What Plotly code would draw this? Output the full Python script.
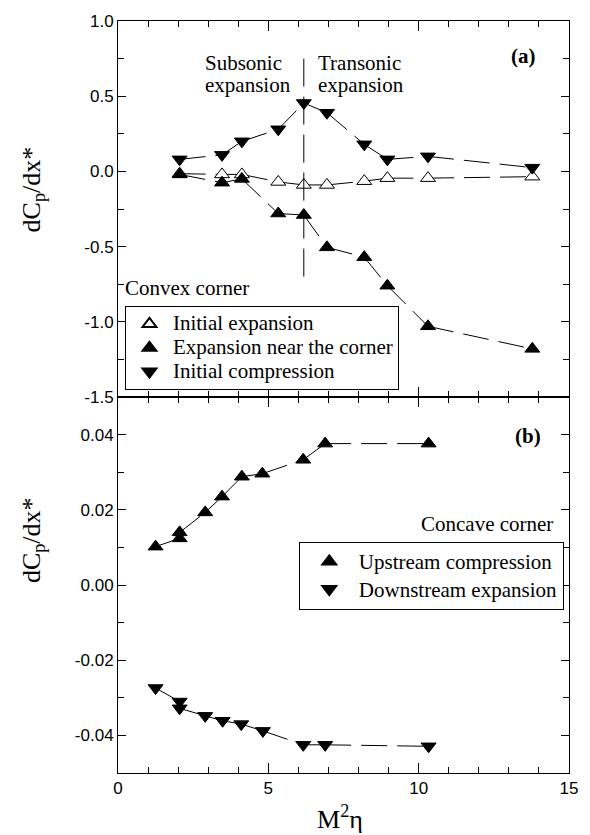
import plotly.graph_objects as go

# ---------------- data ----------------
# panel (a): convex corner
x_a = [2.05, 3.46, 4.12, 5.33, 6.18, 6.95, 8.19, 8.96, 10.31, 13.78]
init_expansion = [-0.015, -0.02, -0.02, -0.07, -0.09, -0.09, -0.065, -0.045, -0.045, -0.035]
exp_near_corner = [-0.02, -0.075, -0.05, -0.28, -0.29, -0.505, -0.57, -0.76, -1.03, -1.18]
init_compression = [0.08, 0.11, 0.20, 0.28, 0.455, 0.39, 0.18, 0.08, 0.10, 0.025]

# panel (b): concave corner
x_b_up = [1.25, 2.05, 2.05, 2.9, 3.46, 4.12, 4.80, 6.16, 6.89, 10.33]
upstream_compression = [0.0102, 0.0124, 0.014, 0.0193, 0.0235, 0.0288, 0.0296, 0.0333, 0.0376, 0.0376]
x_b_dn = [1.25, 2.05, 2.05, 2.9, 3.48, 4.10, 4.82, 6.16, 6.89, 10.33]
downstream_expansion = [-0.0274, -0.031, -0.0328, -0.0348, -0.0361, -0.037, -0.0388, -0.0425, -0.0425, -0.0429]

# transition marker (subsonic / transonic)
x_transition = 6.18
y_transition = [0.75, -0.70]

# ticks
ya_vals = [-1.5, -1.0, -0.5, 0.0, 0.5, 1.0]
ya_text = ["-1.5", "-1.0", "-0.5", "0.0", "0.5", "1.0"]
yb_vals = [-0.04, -0.02, 0.0, 0.02, 0.04]
yb_text = ["-0.04", "-0.02", "0.00", "0.02", "0.04"]
x_vals = [0, 5, 10, 15]
x_text = ["0", "5", "10", "15"]

SERIF = "Liberation Serif"
SANS = "Liberation Sans"
DASH = "26px,10px"


def segments(xs, ys):
    """Split a series into separate segments so the dash pattern restarts at each point."""
    sx, sy = [], []
    for i in range(len(xs) - 1):
        sx += [xs[i], xs[i + 1], None]
        sy += [ys[i], ys[i + 1], None]
    return sx, sy


def big(name):
    # legend rows are spaced from the legend font size; draw the text itself larger
    return '<span style="font-size:21px">' + name + '</span>'


fig = go.Figure()


def add_series(xs, ys, name, symbol, filled, xa, ya, legend):
    sx, sy = segments(xs, ys)
    fig.add_trace(go.Scatter(x=sx, y=sy, mode="lines", xaxis=xa, yaxis=ya,
                             line=dict(color="black", width=1, dash=DASH),
                             showlegend=False, hoverinfo="skip", connectgaps=False))
    fig.add_trace(go.Scatter(x=xs, y=ys, mode="markers", name=big(name), xaxis=xa, yaxis=ya,
                             legend=legend,
                             marker=dict(symbol=symbol, size=13,
                                         color="black" if filled else "white",
                                         line=dict(color="black", width=1))))


add_series(x_a, init_expansion, "Initial expansion", "triangle-up", False, "x", "y", "legend")
add_series(x_a, exp_near_corner, "Expansion near the corner", "triangle-up", True, "x", "y", "legend")
add_series(x_a, init_compression, "Initial compression", "triangle-down", True, "x", "y", "legend")
add_series(x_b_up, upstream_compression, "Upstream compression", "triangle-up", True, "x2", "y2", "legend2")
add_series(x_b_dn, downstream_expansion, "Downstream expansion", "triangle-down", True, "x2", "y2", "legend2")

# vertical dashed transition line
fig.add_trace(go.Scatter(x=[x_transition, x_transition], y=y_transition, mode="lines",
                         xaxis="x", yaxis="y", showlegend=False, hoverinfo="skip",
                         line=dict(color="black", width=1, dash="28px,10px")))

axis_common = dict(showline=True, linecolor="black", linewidth=1, mirror="allticks",
                   ticks="inside", tickcolor="black", showgrid=False, zeroline=False,
                   tickfont=dict(family=SANS, size=17, color="black"))

fig.update_layout(
    width=590, height=835,
    margin=dict(l=118, r=18, t=16, b=62),
    plot_bgcolor="white", paper_bgcolor="white",
    xaxis=dict(domain=[0, 1], anchor="y", range=[0, 15], tickmode="array", tickvals=x_vals,
               ticktext=x_text, showticklabels=False, ticklen=10,
               minor=dict(ticks="inside", ticklen=6, tickmode="linear", tick0=0, dtick=1,
                          tickcolor="black", showgrid=False),
               **axis_common),
    yaxis=dict(domain=[0.5, 1], anchor="x", range=[-1.5, 1.0], tickmode="array",
               tickvals=ya_vals, ticktext=ya_text, ticklen=8,
               minor=dict(ticks="inside", ticklen=6, tickmode="linear", tick0=0, dtick=0.25,
                          tickcolor="black", showgrid=False),
               **axis_common),
    xaxis2=dict(domain=[0, 1], anchor="y2", range=[0, 15], tickmode="array", tickvals=x_vals,
                ticktext=x_text, ticklen=10,
                minor=dict(ticks="inside", ticklen=6, tickmode="linear", tick0=0, dtick=1,
                           tickcolor="black", showgrid=False),
                **axis_common),
    yaxis2=dict(domain=[0, 0.5], anchor="x2", range=[-0.05, 0.05], tickmode="array",
                tickvals=yb_vals, ticktext=yb_text, ticklen=8,
                minor=dict(ticks="inside", ticklen=6, tickmode="linear", tick0=0, dtick=0.01,
                           tickcolor="black", showgrid=False),
                **axis_common),
    legend=dict(x=(125 - 118) / 454, y=(773 - 303) / 757, xanchor="left", yanchor="top",
                bordercolor="black", borderwidth=1, bgcolor="white",
                font=dict(family=SERIF, size=16, color="black"),
                itemsizing="constant", itemwidth=37, tracegroupgap=0),
    legend2=dict(x=(300 - 118) / 454, y=(773 - 540) / 757, xanchor="left", yanchor="top",
                 bordercolor="black", borderwidth=1, bgcolor="white",
                 font=dict(family=SERIF, size=19, color="black"),
                 itemsizing="constant", itemwidth=49, tracegroupgap=0),
    showlegend=True,
)

txt = dict(family=SERIF, size=21, color="black")
ann = [
    dict(text="Subsonic", x=204, y=58, xanchor="left"),
    dict(text="expansion", x=204, y=80, xanchor="left"),
    dict(text="Transonic", x=317, y=58, xanchor="left"),
    dict(text="expansion", x=317, y=80, xanchor="left"),
    dict(text="<b>(a)</b>", x=541, y=51, xanchor="right"),
    dict(text="<b>(b)</b>", x=546, y=434, xanchor="right"),
    dict(text="Convex corner", x=123, y=285, xanchor="left"),
    dict(text="Concave corner", x=558, y=522, xanchor="right"),
]
for a in ann:
    fig.add_annotation(text=a["text"], xref="paper", yref="paper",
                       x=(a["x"] - 118) / 454, y=(773 - a["y"]) / 757,
                       xanchor=a["xanchor"], yanchor="middle", showarrow=False, font=txt)

# axis titles
title_font = dict(family=SERIF, size=26, color="black")
fig.add_annotation(text="dC<sub>p</sub>/dx*", xref="paper", yref="paper",
                   x=(32 - 118) / 454, y=(773 - 186) / 757, textangle=-90,
                   xanchor="center", yanchor="middle", showarrow=False, font=title_font)
fig.add_annotation(text="dC<sub>p</sub>/dx*", xref="paper", yref="paper",
                   x=(32 - 118) / 454, y=(773 - 539) / 757, textangle=-90,
                   xanchor="center", yanchor="middle", showarrow=False, font=title_font)
fig.add_annotation(text="M<sup>2</sup>η", xref="paper", yref="paper",
                   x=(341 - 118) / 454, y=(773 - 818) / 757,
                   xanchor="center", yanchor="middle", showarrow=False, font=title_font)

fig.write_html("out.html",
               config={"displayModeBar": False},
               post_script="document.body.style.margin='0px';"
                           "document.body.style.overflow='hidden';")
